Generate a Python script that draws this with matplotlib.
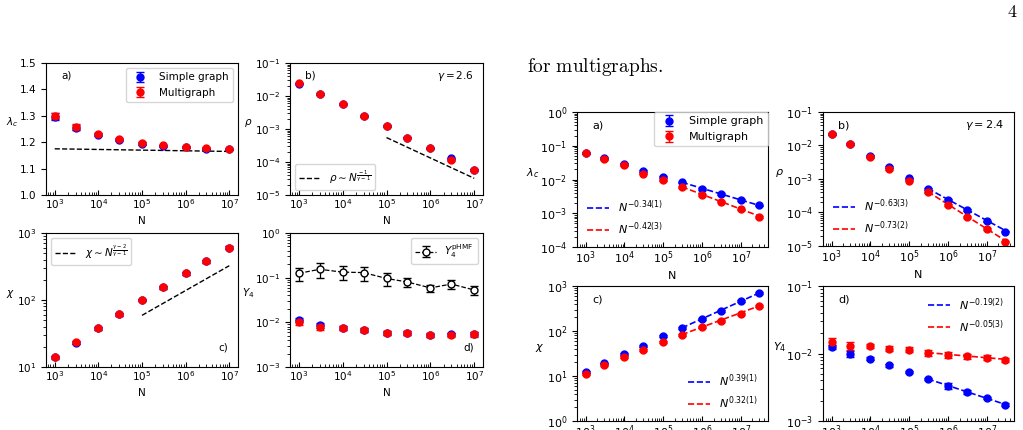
import numpy as np
from matplotlib import pyplot as plt

# tamanos de red
N_izq = [1e3, 3e3, 1e4, 3e4, 1e5, 3e5, 1e6, 3e6, 1e7]
N_der = [1e3, 3e3, 1e4, 3e4, 1e5, 3e5, 1e6, 3e6, 1e7, 3e7]

# ---- figura izquierda (gamma = 2.6) ----
lam_simple = [1.297, 1.255, 1.229, 1.209, 1.195, 1.186, 1.180, 1.176, 1.173]
lam_multi = [1.299, 1.258, 1.231, 1.211, 1.197, 1.188, 1.182, 1.178, 1.175]
lam_err = [0.013, 0.010, 0.005, 0.004, 0.004, 0.003, 0.003, 0.003, 0.003]
lam_ref_x = [1e3, 1e7]
lam_ref_y = [1.175, 1.165]

rho_simple = [0.0235, 0.0114, 0.0056, 0.0025, 0.00123, 0.00055, 0.00026, 0.000128, 5.8e-5]
rho_multi = [0.024, 0.0116, 0.0057, 0.0025, 0.00125, 0.00055, 0.00026, 0.000112, 5.9e-5]
rho_ref_x = [1e5, 1e7]
rho_ref_y = [5.5e-4, 3.2e-5]

chi_simple = [14.0, 23.2, 38.0, 61.0, 100, 155, 250, 380, 600]
chi_multi = [14.1, 23.4, 38.0, 61.5, 100, 155, 250, 380, 600]
chi_ref_x = [1e5, 1e7]
chi_ref_y = [59, 325]

y4_simple = [0.0112, 0.0085, 0.0076, 0.0068, 0.0058, 0.0058, 0.0052, 0.0054, 0.0055]
y4_multi = [0.0100, 0.0079, 0.0074, 0.0067, 0.0057, 0.0057, 0.0051, 0.0053, 0.0054]
y4_err = [0.0012, 0.0010, 0.0008, 0.0006, 0.0006, 0.0006, 0.0005, 0.0005, 0.0006]
y4_hmf = [0.125, 0.154, 0.133, 0.13, 0.096, 0.080, 0.059, 0.072, 0.053]
y4_hmf_err = [0.04, 0.055, 0.045, 0.045, 0.03, 0.018, 0.01, 0.015, 0.012]

# ---- figura derecha (gamma = 2.4) ----
lamR_simple = [0.061, 0.043, 0.0295, 0.018, 0.0118, 0.0083, 0.0052, 0.0037, 0.0025, 0.0017]
lamR_multi = [0.059, 0.040, 0.026, 0.015, 0.0095, 0.006, 0.0035, 0.0022, 0.0013, 0.00078]
fitR_x = [3e5, 3e7]
lamR_fit_simple = [0.0083, 0.0017]
lamR_fit_multi = [0.0061, 0.00082]

rhoR_simple = [0.0224, 0.011, 0.0049, 0.0023, 0.00105, 0.00051, 0.00024, 0.00012, 5.4e-5, 2.7e-5]
rhoR_multi = [0.022, 0.011, 0.0046, 0.0020, 0.0009, 0.0004, 0.00017, 7.4e-5, 3.2e-5, 1.35e-5]
rhoR_fit_simple = [5.2e-4, 2.9e-5]
rhoR_fit_multi = [4.2e-4, 1.45e-5]

chiR_simple = [12, 19, 31.6, 46.4, 76, 117, 185, 278, 456, 700]
chiR_multi = [11.3, 17.5, 26.5, 37.5, 57.5, 83, 121, 171, 244, 355]
chiR_fit_simple = [117, 703]
chiR_fit_multi = [83, 362]

y4R_simple = [0.0125, 0.0099, 0.0084, 0.0067, 0.0053, 0.0042, 0.0033, 0.0027, 0.0022, 0.00175]
y4R_multi = [0.015, 0.013, 0.013, 0.0118, 0.0114, 0.0103, 0.0096, 0.0091, 0.0087, 0.0081]
y4R_err_simple = [0.0010, 0.0009, 0.0004, 0.0003, 0.0002, 0.0002, 0.0003, 0.0002, 0.0001, 0.0001]
y4R_err_multi = [0.0018, 0.0017, 0.0010, 0.0010, 0.0009, 0.0010, 0.0010, 0.0009, 0.0008, 0.0006]
y4R_fit_simple = [0.0042, 0.00176]
y4R_fit_multi = [0.0103, 0.0082]

W, H = 1023, 430
fig = plt.figure(figsize=(W / 100, H / 100), dpi=100)


def caja(x0, y0, x1, y1):
    # convierte pixeles a fracciones de figura
    ax = fig.add_axes([x0 / W, 1 - y1 / H, (x1 - x0) / W, (y1 - y0) / H])
    ax.tick_params(axis='x', which='both', direction='in', pad=1.5)
    return ax


def puntos(ax, N, ys, ym, es=None, em=None, ms=5):
    # simple graph en azul, multigraph en rojo encima
    if es is None:
        es = [v * 0.05 for v in ys]
    if em is None:
        em = [v * 0.05 for v in ym]
    a = ax.errorbar(N, ys, yerr=es, fmt='o', color='blue', ms=ms, capsize=3,
                    elinewidth=1, label='Simple graph')
    b = ax.errorbar(N, ym, yerr=em, fmt='o', color='red', ms=ms, capsize=3,
                    elinewidth=1, label='Multigraph')
    return a, b


fs = 7.5
plt.rcParams['font.size'] = fs
lp = 5

# ---------------- izquierda ----------------
ax = caja(46, 63, 238, 195)
puntos(ax, N_izq, lam_simple, lam_multi, lam_err, lam_err)
ax.plot(lam_ref_x, lam_ref_y, 'k--', lw=1)
ax.set_xscale('log')
ax.set_ylim(1.0, 1.5)
ax.set_ylabel(r'$\lambda_c$', rotation=0, labelpad=lp)
ax.set_xlabel('N')
ax.text(0.08, 0.88, 'a)', transform=ax.transAxes)
ax.legend(loc='upper right', fontsize=fs)

ax = caja(290, 63, 483, 195)
puntos(ax, N_izq, rho_simple, rho_multi)
ax.plot(rho_ref_x, rho_ref_y, 'k--', lw=1, label=r'$\rho \sim N^{\frac{-1}{\gamma-1}}$')
ax.set_xscale('log')
ax.set_yscale('log')
ax.set_ylim(1e-5, 1e-1)
ax.set_ylabel(r'$\rho$', rotation=0, labelpad=lp)
ax.set_xlabel('N')
ax.text(0.08, 0.88, 'b)', transform=ax.transAxes)
ax.text(0.95, 0.88, r'$\gamma = 2.6$', transform=ax.transAxes, ha='right')
h, l = ax.get_legend_handles_labels()
ax.legend([h[0]], [l[0]], loc='lower left', fontsize=fs)

ax = caja(46, 233, 238, 367)
puntos(ax, N_izq, chi_simple, chi_multi)
ax.plot(chi_ref_x, chi_ref_y, 'k--', lw=1, label=r'$\chi \sim N^{\frac{\gamma-2}{\gamma-1}}$')
ax.set_xscale('log')
ax.set_yscale('log')
ax.set_ylim(10, 1000)
ax.set_ylabel(r'$\chi$', rotation=0, labelpad=lp)
ax.set_xlabel('N')
ax.text(0.9, 0.12, 'c)', transform=ax.transAxes)
h, l = ax.get_legend_handles_labels()
ax.legend([h[0]], [l[0]], loc='upper left', fontsize=fs)

ax = caja(290, 233, 483, 367)
puntos(ax, N_izq, y4_simple, y4_multi, y4_err, y4_err)
ax.errorbar(N_izq, y4_hmf, yerr=y4_hmf_err, fmt='o--', color='k', mfc='white',
            ms=5, capsize=3, lw=0.9, label=r'$Y_4^{\rm pHMF}$')
ax.set_xscale('log')
ax.set_yscale('log')
ax.set_ylim(1e-3, 1)
ax.set_ylabel(r'$Y_4$', rotation=0, labelpad=lp)
ax.set_xlabel('N')
ax.text(0.9, 0.12, 'd)', transform=ax.transAxes)
h, l = ax.get_legend_handles_labels()
ax.legend([h[-1]], [l[-1]], loc='upper right', fontsize=fs)

# ---------------- derecha ----------------
fs2 = 8
plt.rcParams['font.size'] = fs2

ax = caja(577, 112, 768, 247)
a, b = puntos(ax, N_der, lamR_simple, lamR_multi)
f1, = ax.plot(fitR_x, lamR_fit_simple, '--', color='blue', lw=1.2)
f2, = ax.plot(fitR_x, lamR_fit_multi, '--', color='red', lw=1.2)
ax.set_xscale('log')
ax.set_yscale('log')
ax.set_ylim(1e-4, 1)
ax.set_ylabel(r'$\lambda_c$', rotation=0, labelpad=lp)
ax.set_xlabel('N')
ax.text(0.08, 0.88, 'a)', transform=ax.transAxes)
leg = ax.legend([a, b], ['Simple graph', 'Multigraph'], loc='upper right',
                fontsize=fs2, borderaxespad=0.0)
ax.add_artist(leg)
ax.legend([f1, f2], [r'$N^{-0.34(1)}$', r'$N^{-0.42(3)}$'], loc='lower left',
          fontsize=fs2, frameon=False)

ax = caja(823, 112, 1014, 246)
puntos(ax, N_der, rhoR_simple, rhoR_multi)
f1, = ax.plot(fitR_x, rhoR_fit_simple, '--', color='blue', lw=1.2)
f2, = ax.plot(fitR_x, rhoR_fit_multi, '--', color='red', lw=1.2)
ax.set_xscale('log')
ax.set_yscale('log')
ax.set_ylim(1e-5, 1e-1)
ax.set_ylabel(r'$\rho$', rotation=0, labelpad=lp)
ax.set_xlabel('N')
ax.text(0.08, 0.88, 'b)', transform=ax.transAxes)
ax.text(0.95, 0.88, r'$\gamma = 2.4$', transform=ax.transAxes, ha='right')
ax.legend([f1, f2], [r'$N^{-0.63(3)}$', r'$N^{-0.73(2)}$'], loc='lower left',
          fontsize=fs2, frameon=False)

ax = caja(577, 286, 768, 421)
puntos(ax, N_der, chiR_simple, chiR_multi)
f1, = ax.plot(fitR_x, chiR_fit_simple, '--', color='blue', lw=1.2)
f2, = ax.plot(fitR_x, chiR_fit_multi, '--', color='red', lw=1.2)
ax.set_xscale('log')
ax.set_yscale('log')
ax.set_ylim(1, 1000)
ax.set_ylabel(r'$\chi$', rotation=0, labelpad=lp)
ax.set_xlabel('N')
ax.text(0.08, 0.88, 'c)', transform=ax.transAxes)
ax.legend([f1, f2], [r'$N^{0.39(1)}$', r'$N^{0.32(1)}$'], loc='lower right',
          fontsize=fs2, frameon=False)

ax = caja(823, 286, 1014, 421)
puntos(ax, N_der, y4R_simple, y4R_multi, y4R_err_simple, y4R_err_multi)
f1, = ax.plot(fitR_x, y4R_fit_simple, '--', color='blue', lw=1.2)
f2, = ax.plot(fitR_x, y4R_fit_multi, '--', color='red', lw=1.2)
ax.set_xscale('log')
ax.set_yscale('log')
ax.set_ylim(1e-3, 1e-1)
ax.set_ylabel(r'$Y_4$', rotation=0, labelpad=lp)
ax.set_xlabel('N')
ax.text(0.08, 0.88, 'd)', transform=ax.transAxes)
ax.legend([f1, f2], [r'$N^{-0.19(2)}$', r'$N^{-0.05(3)}$'], loc='upper right',
          fontsize=fs2, frameon=False)

# texto de la pagina
fig.text(527 / W, 1 - 67 / H, r'$\mathrm{for\ multigraphs.}$', fontsize=14,
         math_fontfamily='cm', va='center')
fig.text(1012 / W, 1 - 12 / H, r'$4$', fontsize=13, math_fontfamily='cm',
         va='center', ha='center')

plt.savefig('out.png', dpi=100)
